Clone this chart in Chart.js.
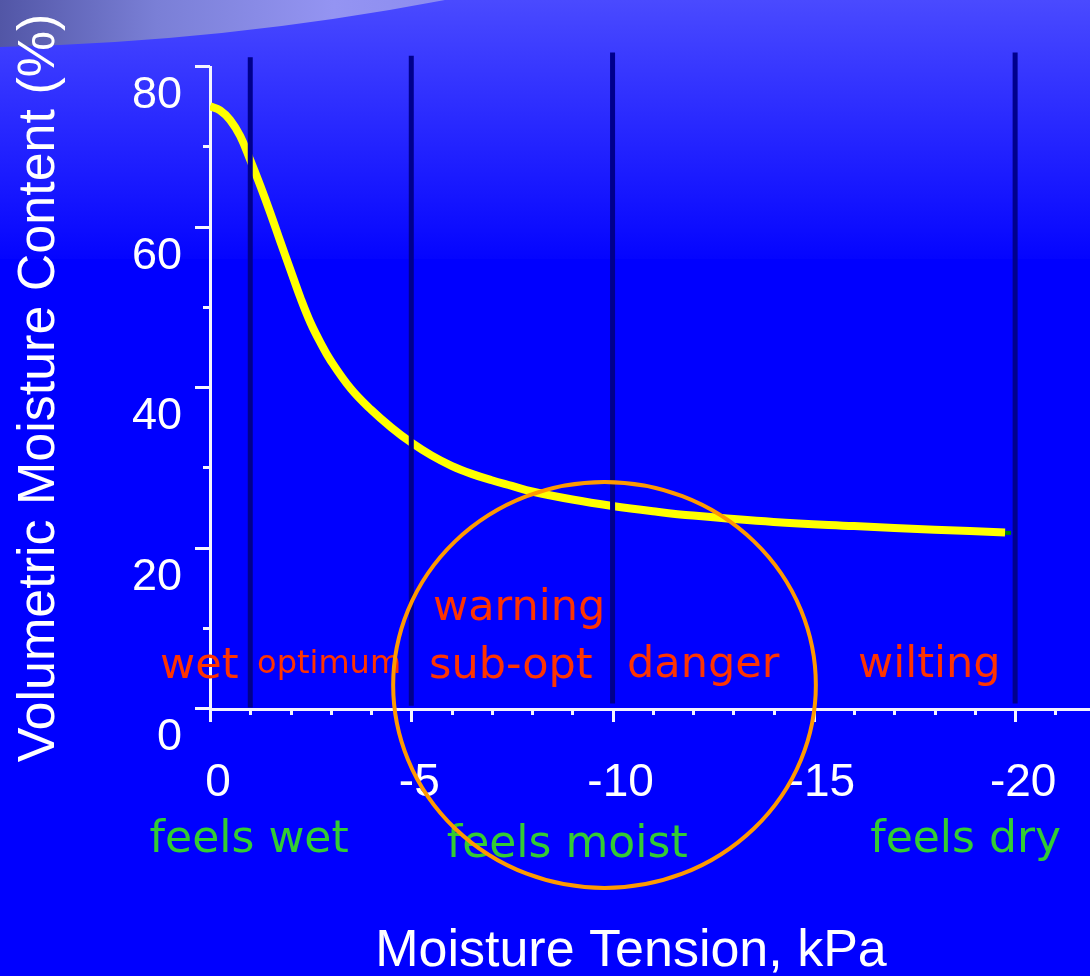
<!DOCTYPE html>
<html>
<head>
<meta charset="utf-8">
<script src="https://cdn.jsdelivr.net/npm/chart.js@4.4.0/dist/chart.umd.min.js"></script>
<style>
  html, body { margin: 0; padding: 0; background: #0000ff; overflow: hidden; }
  canvas { display: block; }
</style>
</head>
<body>
<canvas id="myChart" width="1090" height="976"></canvas>
<script>
// moisture release curve: tension (kPa) against volumetric moisture content (%)
var tension = [0, -0.25, -0.5, -0.75, -1, -1.25, -1.5, -1.75, -2, -2.25, -2.5, -2.75, -3, -3.5, -4, -4.5, -5, -5.5, -6, -6.5, -7, -7.5, -8, -9, -10, -11, -12, -14, -16, -18, -19.75];
var moisture = [75.1, 74.6, 73.4, 71.4, 68.4, 65.2, 61.8, 58.2, 54.7, 51.2, 48.1, 45.6, 43.4, 39.9, 37.3, 35.1, 33.2, 31.6, 30.3, 29.3, 28.5, 27.8, 27.1, 26.1, 25.3, 24.65, 24.1, 23.3, 22.8, 22.35, 22.0];

// little green stub past the end of the curve
var tailTension = [-19.75, -19.9];
var tailMoisture = [21.95, 21.95];

// dark bars between the zones
var boundaryTension = [-1, -5, -10, -20];
var boundaryTop = [81.2, 81.4, 81.8, 81.8];
var boundaryBottom = [0.2, 0.4, 0.7, 0.7];

var xTicks = [-20, -15, -10, -5, 0];
var yTicks = [0, 20, 40, 60, 80];

var zoneLabels = ['wet', 'optimum', 'warning', 'sub-opt', 'danger', 'wilting'];
var feelLabels = ['feels wet', 'feels moist', 'feels dry'];

// the ring around the sub-opt / danger region (kPa, %)
var ringCenter = [-9.8, 3.0];
var ringRadius = [5.25, 25.3];

var axisFont = "'Liberation Sans', Arial, sans-serif";
var noteFont = "'DejaVu Sans', Verdana, sans-serif";

var datasets = [{
  data: tension.map(function (t, i) { return { x: t, y: moisture[i] }; }),
  borderColor: '#ffff00',
  borderWidth: 8,
  borderCapStyle: 'butt',
  pointRadius: 0,
  tension: 0.4,
  order: 3
}, {
  data: tailTension.map(function (t, i) { return { x: t, y: tailMoisture[i] }; }),
  borderColor: '#008a00',
  borderWidth: 4,
  pointRadius: 0,
  order: 3
}];

boundaryTension.forEach(function (t, i) {
  datasets.push({
    data: [{ x: t, y: boundaryBottom[i] }, { x: t, y: boundaryTop[i] }],
    borderColor: '#00008c',
    borderWidth: 5,
    borderCapStyle: 'butt',
    pointRadius: 0,
    clip: false,
    order: 1
  });
});

// slide background with the glossy sweep in the top left corner
var backdrop = {
  id: 'backdrop',
  beforeDraw: function (chart) {
    var ctx = chart.ctx, w = chart.width, h = chart.height;
    ctx.save();
    ctx.fillStyle = '#0000ff';
    ctx.fillRect(0, 0, w, h);
    var g = ctx.createLinearGradient(0, 0, 0, 260);
    g.addColorStop(0, '#4a4aff');
    g.addColorStop(1, '#0404ff');
    ctx.fillStyle = g;
    ctx.fillRect(0, 0, w, 259);

    var s = ctx.createLinearGradient(0, 0, 445, 0);
    s.addColorStop(0, '#5256a6');
    s.addColorStop(0.35, '#7a7fd6');
    s.addColorStop(0.75, '#9494f2');
    s.addColorStop(1, '#8c8cf0');
    ctx.beginPath();
    ctx.moveTo(0, 0);
    ctx.lineTo(0, 47);
    ctx.quadraticCurveTo(225, 42, 445, 0);
    ctx.closePath();
    ctx.fillStyle = s;
    ctx.fill();
    ctx.restore();
  }
};

// tick marks, zone names, the ring and the x title
var overlay = {
  id: 'overlay',
  afterDatasetsDraw: function (chart) {
    var ctx = chart.ctx;
    var xs = chart.scales.x, ys = chart.scales.y;
    var area = chart.chartArea;
    ctx.save();

    // tick marks
    ctx.strokeStyle = '#f4f4ff';
    ctx.lineWidth = 3;
    ctx.beginPath();
    for (var v = 0; v <= 80; v += 10) {
      var py = Math.round(ys.getPixelForValue(v)) - 0.5;
      ctx.moveTo(area.left, py);
      ctx.lineTo(area.left - (v % 20 === 0 ? 15 : 7), py);
    }
    for (var k = 0; k >= -21; k--) {
      var px = Math.round(xs.getPixelForValue(k)) + 0.5;
      ctx.moveTo(px, area.bottom);
      ctx.lineTo(px, area.bottom + (k % 5 === 0 ? 13 : 6));
    }
    ctx.stroke();

    // zone names
    ctx.fillStyle = '#ff3300';
    ctx.textAlign = 'left';
    ctx.textBaseline = 'alphabetic';
    var zonePlaces = [[1.24, 3.86, 43], [-1.17, 4.48, 32], [-5.54, 11.1, 43], [-5.44, 3.86, 43], [-10.36, 4.0, 43], [-16.1, 4.0, 43]];
    zoneLabels.forEach(function (txt, i) {
      var p = zonePlaces[i];
      ctx.font = p[2] + 'px ' + noteFont;
      ctx.fillText(txt, xs.getPixelForValue(p[0]), ys.getPixelForValue(p[1]));
    });

    // how the soil feels, under the axis
    ctx.fillStyle = '#33cc33';
    ctx.font = '44px ' + noteFont;
    var feelPlaces = [[1.5, 143], [-5.88, 148], [-16.4, 143]];
    feelLabels.forEach(function (txt, i) {
      var p = feelPlaces[i];
      ctx.fillText(txt, xs.getPixelForValue(p[0]), area.bottom + p[1]);
    });

    // ring
    var cx = xs.getPixelForValue(ringCenter[0]);
    var cy = ys.getPixelForValue(ringCenter[1]);
    var rx = Math.abs(xs.getPixelForValue(ringCenter[0] - ringRadius[0]) - cx);
    var ry = Math.abs(ys.getPixelForValue(ringCenter[1] + ringRadius[1]) - cy);
    ctx.strokeStyle = '#ff9900';
    ctx.lineWidth = 4;
    ctx.beginPath();
    ctx.ellipse(cx, cy, rx, ry, 0, 0, Math.PI * 2);
    ctx.stroke();

    // x axis title
    ctx.fillStyle = '#ffffff';
    ctx.textAlign = 'center';
    ctx.font = '52px ' + axisFont;
    ctx.fillText('Moisture Tension, kPa', 631, 966);
    ctx.restore();
  }
};

var ctx = document.getElementById('myChart').getContext('2d');
new Chart(ctx, {
  type: 'line',
  data: { datasets: datasets },
  plugins: [backdrop, overlay],
  options: {
    responsive: false,
    animation: false,
    events: [],
    layout: { padding: { top: 67, left: 0, right: 0, bottom: 0 } },
    plugins: { legend: { display: false }, tooltip: { enabled: false } },
    scales: {
      x: {
        type: 'linear',
        position: 'bottom',
        reverse: true,
        min: -21.86,
        max: 0,
        afterBuildTicks: function (scale) {
          scale.ticks = xTicks.map(function (v) { return { value: v }; });
        },
        afterFit: function (scale) { scale.height = 267; },
        grid: { display: false, drawTicks: false },
        border: { display: true, color: '#f4f4ff', width: 3 },
        ticks: {
          color: '#ffffff',
          font: { family: axisFont, size: 46 },
          padding: 47,
          labelOffset: 8,
          maxRotation: 0,
          autoSkip: false,
          callback: function (v) { return String(v); }
        }
      },
      y: {
        type: 'linear',
        min: 0,
        max: 80,
        afterBuildTicks: function (scale) {
          scale.ticks = yTicks.map(function (v) { return { value: v }; });
        },
        afterFit: function (scale) { scale.width = 210; },
        grid: { display: false, drawTicks: false },
        border: { display: true, color: '#f4f4ff', width: 3 },
        title: {
          display: true,
          text: 'Volumetric Moisture Content (%)',
          color: '#ffffff',
          font: { family: axisFont, size: 52 },
          padding: { top: 8, bottom: 0 }
        },
        ticks: {
          color: '#ffffff',
          font: { family: axisFont, size: 45 },
          padding: 28,
          labelOffset: 29,
          autoSkip: false,
          callback: function (v) { return String(v); }
        }
      }
    }
  }
});
</script>
</body>
</html>
